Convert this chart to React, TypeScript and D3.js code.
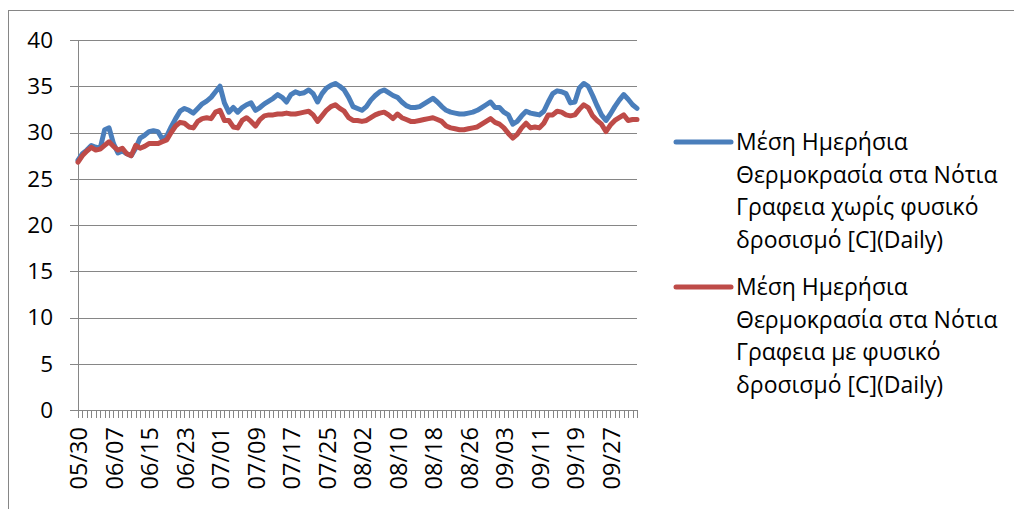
import React from "react";
import * as d3 from "d3";

const startDate = new Date(2021, 4, 30);
const blueValues: number[] = [
  27.0, 27.7, 28.1, 28.6, 28.4, 28.3, 30.3, 30.5, 28.8, 27.8,
  28.0, 27.7, 27.5, 28.3, 29.4, 29.7, 30.1, 30.2, 30.1, 29.3,
  29.6, 30.6, 31.5, 32.3, 32.6, 32.4, 32.1, 32.6, 33.1, 33.4,
  33.8, 34.4, 35.0, 33.2, 32.2, 32.7, 32.2, 32.7, 33.0, 33.2,
  32.4, 32.7, 33.1, 33.4, 33.7, 34.1, 33.8, 33.3, 34.1, 34.4,
  34.2, 34.3, 34.6, 34.2, 33.3, 34.2, 34.8, 35.1, 35.3, 35.0,
  34.6, 33.8, 32.8, 32.6, 32.4, 32.8, 33.5, 34.0, 34.4, 34.6,
  34.3, 34.0, 33.8, 33.3, 32.9, 32.7, 32.7, 32.8, 33.1, 33.4,
  33.7, 33.3, 32.8, 32.4, 32.2, 32.1, 32.0, 32.0, 32.1, 32.2,
  32.4, 32.7, 33.0, 33.3, 32.7, 32.7, 32.2, 31.9, 30.9, 31.2,
  31.8, 32.3, 32.1, 32.0, 31.9, 32.3, 33.3, 34.2, 34.5, 34.4,
  34.2, 33.2, 33.3, 34.8, 35.3, 35.0, 34.0, 32.9, 31.9, 31.3,
  32.0, 32.8, 33.5, 34.1, 33.6, 33.0, 32.6,
];
const redValues: number[] = [
  26.8, 27.5, 28.0, 28.4, 28.1, 28.2, 28.6, 29.0, 28.5, 28.1,
  28.3, 27.7, 27.5, 28.6, 28.3, 28.5, 28.8, 28.8, 28.8, 29.0,
  29.2, 30.0, 30.7, 31.1, 31.0, 30.6, 30.5, 31.2, 31.5, 31.6,
  31.5, 32.2, 32.4, 31.3, 31.3, 30.6, 30.5, 31.3, 31.6, 31.2,
  30.7, 31.4, 31.8, 31.9, 31.9, 32.0, 32.0, 32.1, 32.0, 32.0,
  32.1, 32.2, 32.3, 31.9, 31.2, 31.8, 32.4, 32.8, 33.0, 32.6,
  32.3, 31.6, 31.3, 31.3, 31.2, 31.3, 31.6, 31.9, 32.1, 32.2,
  31.9, 31.5, 32.0, 31.6, 31.4, 31.2, 31.2, 31.3, 31.4, 31.5,
  31.6, 31.4, 31.2, 30.7, 30.5, 30.4, 30.3, 30.3, 30.4, 30.5,
  30.6, 30.9, 31.2, 31.5, 31.1, 30.9, 30.5, 29.9, 29.4, 29.8,
  30.5, 31.0, 30.5, 30.6, 30.5, 31.0, 31.9, 31.9, 32.3, 32.2,
  31.9, 31.8, 31.9, 32.5, 33.0, 32.7, 31.8, 31.3, 30.9, 30.1,
  30.8, 31.3, 31.6, 31.9, 31.3, 31.4, 31.4,
];
const categories: string[] = blueValues.map((_, i) =>
  d3.timeFormat("%m/%d")(d3.timeDay.offset(startDate, i))
);
const yTicks: number[] = [0, 5, 10, 15, 20, 25, 30, 35, 40];
const seriesNames: string[][] = [
  ["Μέση Ημερήσια", "Θερμοκρασία στα Νότια", "Γραφεια χωρίς φυσικό", "δροσισμό [C](Daily)"],
  ["Μέση Ημερήσια", "Θερμοκρασία στα Νότια", "Γραφεια με φυσικό", "δροσισμό [C](Daily)"],
];
const colors = ["#4A7EBB", "#BE4B48"];

export default function App() {
  const W = 1014, H = 509;
  const left = 78, right = 637, top = 40, bottom = 410;
  const x = d3.scalePoint<number>().domain(categories.map((_, i) => i)).range([left, right]);
  const y = d3.scaleLinear().domain([0, 40]).range([bottom, top]);
  const line = d3.line<number>().x((_, i) => x(i)!).y((d) => y(d));
  const grid = "#868686";
  const font = "'Open Sans', sans-serif";
  const legendStarts = [142, 287];
  const lineGap = 32.5;

  return (
    <svg width={W} height={H} style={{ position: "absolute", left: 0, top: 0, background: "#fff" }}>
      <rect x={8.5} y={10.5} width={1100} height={600} fill="#fff" stroke={grid} strokeWidth={1} />
      {yTicks.map((t) => (
        <g key={t}>
          <line x1={70} x2={right} y1={Math.round(y(t)) + 0.5} y2={Math.round(y(t)) + 0.5} stroke={grid} strokeWidth={1} />
          <text x={53} y={y(t)} dy="0.35em" textAnchor="end" fontFamily={font} fontSize={22.5} fill="#000">
            {t}
          </text>
        </g>
      ))}
      <line x1={left + 0.5} x2={left + 0.5} y1={top} y2={bottom} stroke={grid} strokeWidth={1} />
      {categories.map((_, i) => (
        <line key={i} x1={Math.round(x(i)!) + 0.5} x2={Math.round(x(i)!) + 0.5} y1={bottom} y2={bottom + 8} stroke={grid} strokeWidth={1} />
      ))}
      {categories.map((c, i) =>
        i % 8 === 0 ? (
          <text
            key={c}
            transform={`translate(${x(i)! + 1},${bottom + 17}) rotate(-90)`}
            textAnchor="end"
            dy="0.35em"
            fontFamily={font}
            fontSize={23.5}
            fill="#000"
          >
            {c}
          </text>
        ) : null
      )}
      {[blueValues, redValues].map((vals, k) => (
        <path key={k} d={line(vals)!} fill="none" stroke={colors[k]} strokeWidth={5} strokeLinejoin="round" strokeLinecap="round" />
      ))}
      {seriesNames.map((lines, k) => (
        <g key={k}>
          <line x1={676} x2={731} y1={legendStarts[k]} y2={legendStarts[k]} stroke={colors[k]} strokeWidth={5} strokeLinecap="round" />
          {lines.map((s, j) => (
            <text key={j} x={736} y={legendStarts[k] + j * lineGap} dy="0.35em" fontFamily={font} fontSize={23} fill="#000">
              {s}
            </text>
          ))}
        </g>
      ))}
    </svg>
  );
}
